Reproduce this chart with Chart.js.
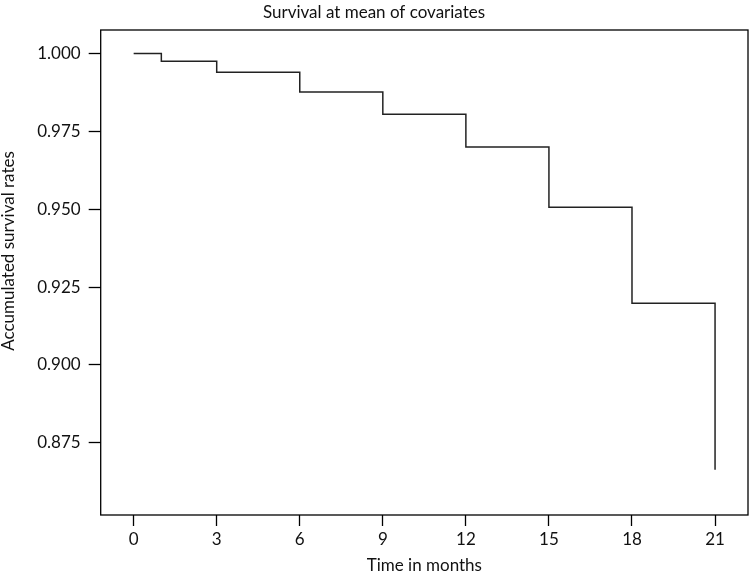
<!DOCTYPE html>
<html>
<head>
<meta charset="utf-8">
<script src="https://cdn.jsdelivr.net/npm/chart.js@4"></script>
<style>
  html, body { margin: 0; padding: 0; background: #fff; }
  #wrap { width: 750px; height: 576px; }
</style>
</head>
<body>
<div id="wrap"><canvas id="survChart" width="750" height="576"></canvas></div>
<script>
// survival step function (time in months, accumulated survival)
var times    = [0, 1, 3, 6, 9, 12, 15, 18, 21];
var survival = [1.000, 0.9975, 0.994, 0.9876, 0.9805, 0.970, 0.9506, 0.9198, 0.8663];
var xTicks   = [0, 3, 6, 9, 12, 15, 18, 21];
var yTicks   = [0.875, 0.900, 0.925, 0.950, 0.975, 1.000];
var yTitle   = 'Accumulated survival rates';

var FONT = "Lato, 'Open Sans', sans-serif";
var FSIZE = 17;

var points = [];
for (var i = 0; i < times.length; i++) {
	points.push({ x: times[i], y: survival[i] });
}

// full box round the plot, like R's box(), plus the y axis title
var boxPlugin = {
	id: 'boxPlugin',
	afterDraw: function(chart) {
		var a = chart.chartArea, ctx = chart.ctx;
		ctx.save();
		ctx.strokeStyle = '#000';
		ctx.lineWidth = 1.3;
		ctx.strokeRect(a.left, a.top, a.right - a.left, a.bottom - a.top);

		ctx.translate(9, 251);
		ctx.rotate(-Math.PI / 2);
		ctx.fillStyle = '#111';
		ctx.font = FSIZE + 'px ' + FONT;
		ctx.textAlign = 'center';
		ctx.textBaseline = 'middle';
		ctx.fillText(yTitle, 0, 0);
		ctx.restore();
	}
};

var ctx = document.getElementById('survChart').getContext('2d');
new Chart(ctx, {
	type: 'line',
	data: {
		datasets: [{
			label: 'Survival',
			data: points,
			stepped: true,
			borderColor: '#222',
			borderWidth: 1.5,
			pointRadius: 0,
			fill: false
		}]
	},
	options: {
		responsive: false,
		animation: false,
		layout: { padding: { left: 0, right: 2, top: 0, bottom: 0 } },
		plugins: {
			legend: { display: false },
			tooltip: { enabled: false },
			title: {
				display: true,
				text: 'Survival at mean of covariates',
				color: '#111',
				font: { family: FONT, size: FSIZE, weight: 'normal' },
				padding: { top: 2, bottom: 7.6 }
			}
		},
		scales: {
			x: {
				type: 'linear',
				min: -1.19,
				max: 22.19,
				afterBuildTicks: function(scale) {
					scale.ticks = xTicks.map(function(v) { return { value: v }; });
				},
				afterFit: function(scale) { scale.height = 61; },
				grid: { drawOnChartArea: false, tickLength: 11, tickColor: '#000', tickWidth: 1.3 },
				border: { display: false },
				ticks: {
					color: '#111',
					font: { family: FONT, size: FSIZE },
					padding: 3,
					maxRotation: 0,
					autoSkip: false
				},
				title: {
					display: true,
					text: 'Time in months',
					color: '#111',
					font: { family: FONT, size: FSIZE },
					padding: { top: 0, bottom: 0 }
				}
			},
			y: {
				type: 'linear',
				min: 0.8518,
				max: 1.00755,
				afterBuildTicks: function(scale) {
					scale.ticks = yTicks.map(function(v) { return { value: v }; });
				},
				afterFit: function(scale) { scale.width = 100.7; },
				grid: { drawOnChartArea: false, tickLength: 12, tickColor: '#000', tickWidth: 1.3 },
				border: { display: false },
				ticks: {
					color: '#111',
					font: { family: FONT, size: FSIZE },
					padding: 8,
					callback: function(v) { return Number(v).toFixed(3); }
				},
				title: { display: false }
			}
		}
	},
	plugins: [boxPlugin]
});
</script>
</body>
</html>
